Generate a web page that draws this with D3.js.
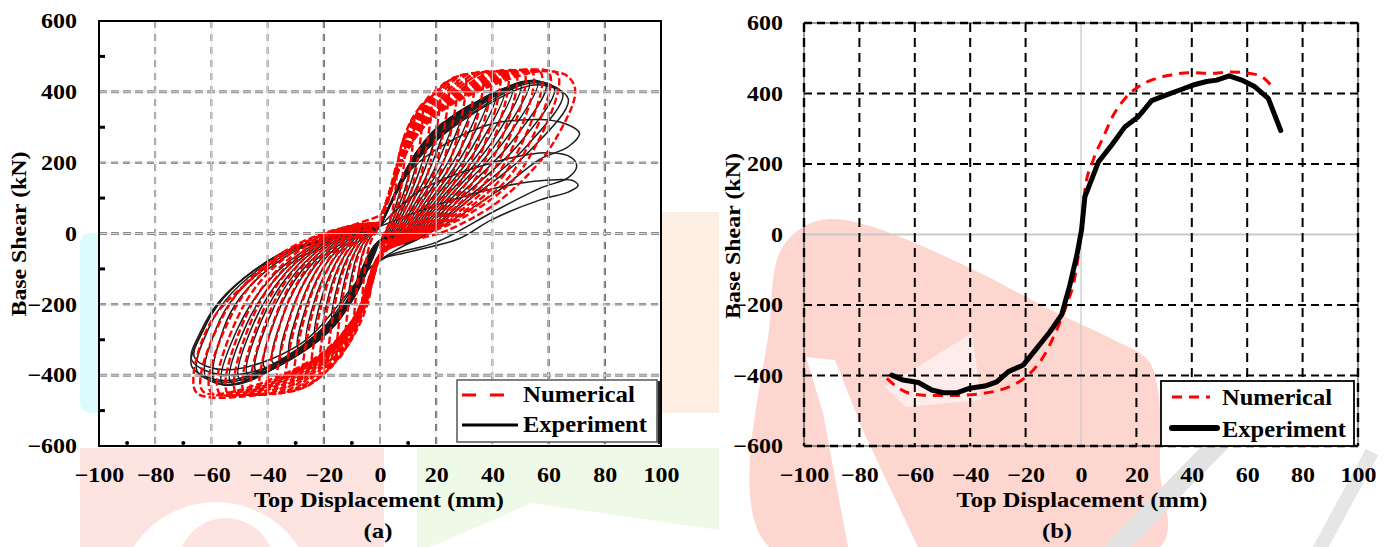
<!DOCTYPE html>
<html><head><meta charset="utf-8">
<script src="https://cdn.jsdelivr.net/npm/d3@7"></script>
<style>
html,body{margin:0;padding:0;background:#fff;}
svg{display:block;}
text{font-family:"Liberation Serif","Tinos","Times New Roman","DejaVu Serif","Noto Serif",serif;font-weight:bold;fill:#000;}
</style></head><body>
<svg id="c" width="1391" height="547"></svg>
<script>
// ---------------- DATA ----------------
const xTicks = [-100,-80,-60,-40,-20,0,20,40,60,80,100];
const yTicks = [-600,-400,-200,0,200,400,600];
const minorXTicks = [-90,-70,-50,-30,-10,10];
const minorYTicks = [-500,-300,-100,100,300,500];
const seriesNames = ["Numerical","Experiment"];
const panelLabels = ["(a)","(b)"];
const xTitle = "Top Displacement (mm)";
const yTitle = "Base Shear (kN)";

// (a) cyclic hysteresis – experiment loops [displacement mm, shear kN]
const experimentLoops = [
 [[0,20],[1.6,49],[4,90],[8,160],[6.4,99],[4,45],[1.2,-8],[0,-20],[-1.6,-52],[-4,-94],[-8,-140],[-7.2,-87],[-5.4,-39],[-3.2,-8],[-1.2,7],[0,20]],
 [[0,20],[2.2,57],[5.5,117],[11,200],[8.8,124],[5.5,56],[1.7,-9],[0,-20],[-2.2,-60],[-5.5,-121],[-11,-180],[-9.9,-112],[-7.5,-50],[-4.4,-11],[-1.7,9],[0,20]],
 [[0,20],[2.8,66],[7,144],[14,240],[11.2,149],[7,67],[2.1,-10],[0,-20],[-2.8,-71],[-7,-146],[-14,-215],[-12.6,-133],[-9.5,-60],[-5.6,-13],[-2.1,11],[0,20]],
 [[0,20],[3.4,76],[8.5,169],[17,270],[13.6,167],[8.5,76],[2.6,-11],[0,-20],[-3.4,-81],[-8.5,-169],[-17,-245],[-15.3,-152],[-11.6,-69],[-6.8,-15],[-2.6,12],[0,20]],
 [[0,20],[4,86],[10,191],[20,295],[16,183],[10,83],[3,-12],[0,-20],[-4,-91],[-10,-191],[-20,-270],[-18,-167],[-13.6,-76],[-8,-16],[-3,14],[0,20]],
 [[0,20],[4.6,95],[11.5,210],[23,315],[18.4,195],[11.5,88],[3.5,-13],[0,-20],[-4.6,-101],[-11.5,-208],[-23,-290],[-20.7,-180],[-15.6,-81],[-9.2,-17],[-3.5,15],[0,20]],
 [[0,20],[5.2,104],[13,228],[26,330],[20.8,205],[13,92],[3.9,-14],[0,-20],[-5.2,-110],[-13,-226],[-26,-310],[-23.4,-192],[-17.7,-87],[-10.4,-19],[-3.9,16],[0,20]],
 [[0,20],[5.8,114],[14.5,243],[29,345],[23.2,214],[14.5,97],[4.4,-15],[0,-20],[-5.8,-120],[-14.5,-243],[-29,-325],[-26.1,-202],[-19.7,-91],[-11.6,-20],[-4.4,16],[0,20]],
 [[0,20],[6.4,123],[16,258],[32,358],[25.6,222],[16,100],[4.8,-16],[0,-20],[-6.4,-128],[-16,-258],[-32,-340],[-28.8,-211],[-21.8,-95],[-12.8,-20],[-4.8,17],[0,20]],
 [[0,20],[7,132],[17.5,271],[35,370],[28,229],[17.5,104],[5.3,-17],[0,-20],[-7,-137],[-17.5,-271],[-35,-355],[-31.5,-220],[-23.8,-99],[-14,-21],[-5.3,18],[0,20]],
 [[0,20],[7.6,141],[19,279],[38,380],[30.4,236],[19,106],[5.7,-18],[0,-20],[-7.6,-144],[-19,-283],[-38,-365],[-34.2,-226],[-25.8,-102],[-15.2,-22],[-5.7,18],[0,20]],
 [[0,20],[8.2,149],[20.5,288],[41,392],[32.8,243],[20.5,110],[6.2,-19],[0,-20],[-8.2,-152],[-20.5,-293],[-41,-378],[-36.9,-234],[-27.9,-106],[-16.4,-23],[-6.2,19],[0,20]],
 [[0,20],[8.8,158],[22,301],[44,402],[35.2,249],[22,113],[6.6,-20],[0,-20],[-8.8,-161],[-22,-302],[-44,-390],[-39.6,-242],[-29.9,-109],[-17.6,-23],[-6.6,20],[0,20]],
 [[0,20],[9.4,166],[23.5,308],[47,412],[37.6,255],[23.5,115],[7,-21],[0,-20],[-9.4,-169],[-23.5,-309],[-47,-400],[-42.3,-248],[-32,-112],[-18.8,-24],[-7,20],[0,20]],
 [[0,20],[10,174],[25,315],[50,420],[40,260],[25,118],[7.5,-22],[0,-20],[-10,-176],[-25,-318],[-50,-410],[-45,-254],[-34,-115],[-20,-25],[-7.5,20],[0,20]],
 [[0,20],[10.6,180],[26.5,320],[53,428],[42.4,265],[26.5,120],[8,-23],[0,-20],[-10.6,-183],[-26.5,-324],[-53,-420],[-47.7,-260],[-36,-118],[-21.2,-25],[-8,21],[0,20]],
 [[0,20],[11.2,187],[28,325],[56,430],[44.8,267],[28,120],[8.4,-24],[0,-20],[-11.2,-189],[-28,-330],[-56,-425],[-50.4,-264],[-38,-119],[-22.4,-26],[-8.4,21],[0,20]],
 [[0,20],[11.8,195],[29.5,330],[50,428],[59,420],[47,260],[29.5,118],[8.9,-25],[0,-20],[-11.8,-195],[-29.5,-335],[-50,-425],[-59,-415],[-55.5,-265],[-49.7,-180],[-39.3,-98],[-28.8,-44],[-18.3,-16],[-7.9,10],[0,20]],
 [[0,20],[12.4,200],[31,335],[52,428],[62,410],[49.6,254],[31,115],[9.3,-26],[0,-20],[-12.4,-200],[-31,-340],[-52,-425],[-62,-405],[-58.3,-268],[-52.2,-183],[-41.3,-100],[-30.2,-45],[-19.2,-17],[-8.3,10],[0,20]],
 [[0,20],[13,205],[32.5,338],[54,425],[65,395],[52,245],[32.5,110],[9.8,-27],[0,-20],[-13,-205],[-32.5,-345],[-54,-420],[-65,-390],[-61.1,-270],[-54.7,-186],[-43.3,-102],[-31.7,-46],[-20.2,-18],[-8.7,10],[0,20]],
 [[0,20],[13.4,210],[33.5,340],[56,420],[67,380],[53.6,236],[33.5,106],[10,-28],[0,-20],[-13.4,-208],[-33.5,-348],[-55,-415],[-67,-375],[-63,-272],[-56.4,-188],[-44.6,-103],[-32.7,-47],[-20.8,-18],[-9,10],[0,20]],
 [[0,20],[11,180],[36,300],[56,322],[66,310],[71,283],[67,245],[57,210],[42,120],[22,20],[5,-50],[-4,-100],[-28,-330],[-55,-400],[-67,-357],[-64,-280],[-57,-190],[-45,-105],[-33,-48],[-21,-18],[-9,10],[0,20]],
 [[0,20],[14,120],[40,200],[60,228],[68,215],[70,190],[67,158],[57,128],[40,60],[20,-25],[4,-60],[-4,-100],[-28,-310],[-55,-385],[-66,-350],[-63,-275],[-56,-185],[-44,-100],[-32,-45],[-20,-15],[-9,12],[0,20]],
 [[0,20],[20,80],[45,135],[63,152],[69,148],[70.5,135],[67,117],[57,95],[40,40],[28,-15],[14,-45],[0,-70]]
];

// (a) cyclic hysteresis – numerical loops
const numericalLoops = [
 [[0,30],[1.2,66],[2.7,98],[6,195],[4.8,80],[3,24],[0.9,-10],[0,-60],[-0.9,-80],[-2.4,-126],[-6,-190],[-5.1,-86],[-3.3,-23],[-1.2,8],[0,30]],
 [[0,30],[1.8,78],[4.05,130],[9,280],[7.2,112],[4.5,34],[1.4,-14],[0,-60],[-1.35,-93],[-3.6,-162],[-9,-270],[-7.7,-122],[-5,-32],[-1.8,11],[0,30]],
 [[0,30],[2.4,89],[5.4,170],[12,330],[9.6,132],[6,40],[1.8,-17],[0,-60],[-1.8,-109],[-4.8,-193],[-12,-320],[-10.2,-144],[-6.6,-38],[-2.4,13],[0,30]],
 [[0,30],[3,98],[6.75,208],[15,365],[12,146],[7.5,44],[2.3,-18],[0,-60],[-2.25,-121],[-6,-214],[-15,-355],[-12.8,-160],[-8.3,-43],[-3,14],[0,30]],
 [[0,30],[3.6,109],[8.1,241],[18,390],[14.4,156],[9,47],[2.7,-20],[0,-60],[-2.7,-131],[-7.2,-233],[-18,-380],[-15.3,-171],[-9.9,-46],[-3.6,15],[0,30]],
 [[0,30],[4.2,125],[9.45,263],[21,410],[16.8,164],[10.5,49],[3.2,-21],[0,-60],[-3.15,-142],[-8.4,-251],[-21,-400],[-17.9,-180],[-11.6,-48],[-4.2,16],[0,30]],
 [[0,30],[4.8,140],[10.8,281],[24,428],[19.2,171],[12,51],[3.6,-21],[0,-60],[-3.6,-153],[-9.6,-267],[-24,-418],[-20.4,-188],[-13.2,-50],[-4.8,17],[0,30]],
 [[0,30],[5.4,155],[12.15,297],[27,440],[21.6,176],[13.5,53],[4.1,-22],[0,-60],[-4.05,-165],[-10.8,-280],[-27,-432],[-23,-194],[-14.9,-52],[-5.4,17],[0,30]],
 [[0,30],[6,169],[13.5,310],[30,448],[24,179],[15,54],[4.5,-22],[0,-60],[-4.5,-175],[-12,-291],[-30,-440],[-25.5,-198],[-16.5,-53],[-6,18],[0,30]],
 [[0,30],[6.6,183],[14.85,319],[33,452],[26.4,181],[16.5,54],[5,-23],[0,-60],[-4.95,-181],[-13.2,-300],[-33,-446],[-28,-201],[-18.2,-54],[-6.6,18],[0,30]],
 [[0,30],[7.2,198],[16.2,327],[36,455],[28.8,182],[18,55],[5.4,-23],[0,-60],[-5.4,-189],[-14.4,-309],[-36,-450],[-30.6,-203],[-19.8,-54],[-7.2,18],[0,30]],
 [[0,30],[7.8,212],[17.55,335],[39,457],[31.2,183],[19.5,55],[5.9,-23],[0,-60],[-5.85,-195],[-15.6,-317],[-39,-452],[-33.2,-203],[-21.5,-54],[-7.8,18],[0,30]],
 [[0,30],[8.4,222],[18.9,342],[42,457],[33.6,183],[21,55],[6.3,-23],[0,-60],[-6.3,-201],[-16.8,-325],[-42,-453],[-35.7,-204],[-23.1,-54],[-8.4,18],[0,30]],
 [[0,30],[9,231],[20.25,349],[45,458],[36,183],[22.5,55],[6.8,-23],[0,-60],[-6.75,-207],[-18,-332],[-45,-453],[-38.3,-204],[-24.8,-54],[-9,18],[0,30]],
 [[0,30],[9.6,239],[21.6,355],[48,458],[38.4,183],[24,55],[7.2,-23],[0,-60],[-7.2,-213],[-19.2,-337],[-48,-453],[-40.8,-204],[-26.4,-54],[-9.6,18],[0,30]],
 [[0,30],[10.2,247],[22.95,362],[51,458],[40.8,183],[25.5,55],[7.7,-23],[0,-60],[-7.65,-218],[-20.4,-344],[-51,-453],[-43.4,-204],[-28,-54],[-10.2,18],[0,30]],
 [[0,30],[10.8,253],[24.3,366],[54,458],[43.2,183],[27,55],[8.1,-23],[0,-60],[-8.1,-224],[-21.6,-349],[-54,-453],[-45.9,-204],[-29.7,-54],[-10.8,18],[0,30]],
 [[0,30],[11.4,259],[25.65,372],[57,457],[45.6,183],[28.5,55],[8.6,-23],[0,-60],[-8.55,-230],[-22.8,-355],[-57,-452],[-48.5,-203],[-31.4,-54],[-11.4,18],[0,30]],
 [[0,30],[12,266],[27,375],[60,456],[48,182],[30,55],[9,-23],[0,-60],[-9,-236],[-24,-359],[-60,-450],[-51,-203],[-33,-54],[-12,18],[0,30]],
 [[0,30],[12.6,271],[28.35,377],[63,452],[50.4,181],[31.5,54],[9.5,-23],[0,-60],[-9.45,-240],[-25.2,-362],[-63,-446],[-53.6,-201],[-34.7,-54],[-12.6,18],[0,30]],
 [[0,50],[3.5,108],[8.3,266],[13,344],[19.4,394],[25.8,438],[33.6,453],[50,458],[66,448],[69.5,403],[62,260],[52.8,167],[40,78],[24,9],[16,-10],[5,-30],[-1.2,-89],[-4.4,-198],[-9.2,-286],[-17.3,-375],[-26.7,-434],[-39.4,-453],[-64.8,-453],[-66.4,-404],[-60,-247],[-45.7,-128],[-33,-50],[-18.7,0],[-7.6,29],[0,50]]
];

// (b) envelope curves
const envelopeNumerical = [[-70.1,-408],[-66.5,-432],[-61.7,-451],[-54.5,-457],[-46.1,-457],[-37.7,-453],[-29.2,-441],[-23.2,-422],[-18.4,-394],[-13.6,-347],[-8.8,-271],[-5.2,-200],[-2.2,-120],[-0.4,-25],[0.5,50],[1.4,126],[4.4,211],[8.1,277],[11.7,339],[15.9,386],[20.7,419],[26.1,440],[32.1,452],[39.4,459],[46.6,457],[53.8,461],[61,457],[65.2,448],[68.5,424]];
const envelopeExperiment = [[-68.3,-399],[-64.2,-413],[-58.7,-420],[-53.9,-441],[-49.7,-449],[-44.9,-449],[-40.1,-436],[-34.7,-430],[-30.4,-418],[-26.2,-389],[-20.8,-370],[-16,-323],[-11.2,-276],[-7,-228],[-4,-143],[-1.4,-55],[0.2,13],[1.4,107],[6.3,206],[11.1,254],[15.9,306],[20.7,334],[25.5,380],[30.9,396],[35.7,410],[40.5,424],[45.4,434],[49,438],[53.5,450],[58,438],[62.8,419],[67.6,386],[72.1,295]];

// ---------------- DRAW ----------------
const svg = d3.select("#c");
const FONT = '"Liberation Serif","Tinos","Times New Roman","DejaVu Serif","Noto Serif",serif';
const FS = 21;

function measure(s,size){
  const t = svg.append("text").style("font-family",FONT).style("font-weight","bold").style("font-size",size+"px").text(s);
  const w = t.node().getComputedTextLength(); t.remove(); return w;
}
const TICK_SX = 36/measure("600",FS);

// faint background watermark decoration
const bg = svg.append("g");
bg.append("rect").attr("x",80).attr("y",233).attr("width",26).attr("height",180).attr("rx",10).attr("fill","#dcfbfe");
bg.append("rect").attr("x",655).attr("y",212).attr("width",64).attr("height",201).attr("fill","#fdeee3");
bg.append("rect").attr("x",80).attr("y",448).attr("width",304).attr("height",99).attr("fill","#fde4e1");
bg.append("circle").attr("cx",216).attr("cy",600).attr("r",98).attr("fill","#fff");
bg.append("circle").attr("cx",226).attr("cy",566).attr("r",48).attr("fill","#fde4e1");
bg.append("rect").attr("x",417).attr("y",448).attr("width",302).attr("height",99).attr("fill","#eefae7");
bg.append("path").attr("d","M430,547L532,503L719,530L719,547Z").attr("fill","#fff");
bg.append("path").attr("d",d3.line().curve(d3.curveCatmullRomClosed)([[769,547],[770,320],[780,252],[803,227],[830,219],[870,226],[968,267],[1051,310],[1114,340],[1148,360],[1158,390],[1160,470],[1160,547]])).attr("fill","#fdd6d0");
bg.append("path").attr("d","M806,357L835,360L864,433L918,547L848,547L823,413Z").attr("fill","#fff");
bg.append("path").attr("d","M885,387L972,333L981,400L906,407Z").attr("fill","#fff").attr("opacity",0.55);
bg.append("line").attr("x1",1112).attr("y1",552).attr("x2",1222).attr("y2",440).attr("stroke","#e2e2e2").attr("stroke-width",20);
bg.append("line").attr("x1",1372).attr("y1",452).attr("x2",1318).attr("y2",552).attr("stroke","#e6e6e6").attr("stroke-width",14);

function styleTicks(g){
  g.attr("font-family",null).attr("font-size",null);
  g.select(".domain").remove();
  g.selectAll(".tick line").remove();
  g.selectAll("text").style("font-size",FS+"px").style("font-family",FONT).style("font-weight","bold").attr("fill","#000")
    .attr("transform",`scale(${TICK_SX},1)`);
}
function addText(x,y,s,size,anchor,rot,targetW){
  const sx = targetW/measure(s,size);
  svg.append("text").attr("transform",`translate(${x},${y})`+(rot?` rotate(${rot})`:"")+` scale(${sx},1)`)
    .attr("text-anchor",anchor).style("font-family",FONT).style("font-size",size+"px").text(s);
}

// ===== Panel (a) =====
const A = {x0:99,x1:661,y0:21,y1:446};
const xA = d3.scaleLinear().domain([-100,100]).range([A.x0,A.x1]);
const yA = d3.scaleLinear().domain([-600,600]).range([A.y1,A.y0]);
const gA = svg.append("g");
gA.append("rect").attr("x",A.x0).attr("y",A.y0).attr("width",A.x1-A.x0).attr("height",A.y1-A.y0).attr("fill","#fff");
xTicks.filter(v=>Math.abs(v)<100).forEach(v=>{
  const dark=[-20,20,60,80].includes(v);
  gA.append("line").attr("x1",xA(v)).attr("x2",xA(v)).attr("y1",A.y0).attr("y2",A.y1)
    .attr("stroke",dark?"#151515":"#6f6f6f").attr("stroke-width",1.9).attr("stroke-dasharray","7,6");
});
yTicks.filter(v=>Math.abs(v)<600).forEach(v=>{
  const grey=[400,0,-400].includes(v);
  gA.append("line").attr("x1",A.x0).attr("x2",A.x1).attr("y1",yA(v)).attr("y2",yA(v))
    .attr("stroke",grey?"#8a8a8a":"#151515").attr("stroke-width",grey?3:1.7).attr("stroke-dasharray",grey?"8,4":"7,5");
});
const lineA = d3.line().x(d=>xA(d[0])).y(d=>yA(d[1])).curve(d3.curveCatmullRom.alpha(0.5));
experimentLoops.forEach(l=>gA.append("path").attr("d",lineA(l)).attr("fill","none")
  .attr("stroke","#1c1c1c").attr("stroke-width",1.5));
numericalLoops.forEach(l=>gA.append("path").attr("d",lineA(l)).attr("fill","none")
  .attr("stroke","#ff0000").attr("stroke-width",2.4).attr("stroke-dasharray","7,3"));
xTicks.filter(v=>Math.abs(v)<100).forEach(v=>gA.append("line").attr("x1",xA(v)).attr("x2",xA(v)).attr("y1",A.y0).attr("y2",A.y1)
  .attr("stroke","#e2e7ee").attr("stroke-width",1).attr("opacity",0.85));
yTicks.filter(v=>Math.abs(v)<600).forEach(v=>gA.append("line").attr("x1",A.x0).attr("x2",A.x1).attr("y1",yA(v)).attr("y2",yA(v))
  .attr("stroke","#e2e7ee").attr("stroke-width",1).attr("opacity",0.85));
gA.append("rect").attr("x",A.x0).attr("y",A.y0).attr("width",A.x1-A.x0).attr("height",A.y1-A.y0)
  .attr("fill","none").attr("stroke","#000").attr("stroke-width",2);
minorYTicks.forEach(v=>gA.append("line").attr("x1",A.x0).attr("x2",A.x0+6).attr("y1",yA(v)).attr("y2",yA(v)).attr("stroke","#000").attr("stroke-width",3));
minorXTicks.forEach(v=>gA.append("circle").attr("cx",xA(v)).attr("cy",A.y1-3).attr("r",2).attr("fill","#000"));
const LA = gA.append("g");
LA.append("rect").attr("x",457).attr("y",380).attr("width",200).attr("height",62).attr("fill","#fff").attr("stroke","#555").attr("stroke-width",1.5);
LA.append("line").attr("x1",659).attr("x2",659).attr("y1",381).attr("y2",444).attr("stroke","#222").attr("stroke-width",2.5);
LA.append("line").attr("x1",462).attr("x2",510).attr("y1",395).attr("y2",395).attr("stroke","#ff0000").attr("stroke-width",3).attr("stroke-dasharray","14,14");
LA.append("line").attr("x1",462).attr("x2",518).attr("y1",425).attr("y2",425).attr("stroke","#000").attr("stroke-width",3);
const axAx = svg.append("g").attr("transform",`translate(0,${A.y1})`).call(d3.axisBottom(xA).tickValues(xTicks).tickSize(0).tickPadding(21.5));
styleTicks(axAx);
const axAy = svg.append("g").attr("transform",`translate(${A.x0},0)`).call(d3.axisLeft(yA).tickValues(yTicks).tickSize(0).tickPadding(22/TICK_SX));
styleTicks(axAy);
addText(523,402,seriesNames[0],22.5,"start",0,112);
addText(523,432,seriesNames[1],22.5,"start",0,124);
addText(379,507,xTitle,FS,"middle",0,250);
addText(26,234,yTitle,FS,"middle",-90,165);
addText(378,538,panelLabels[0],21,"middle",0,29);

// ===== Panel (b) =====
const B = {x0:804,x1:1358,y0:23,y1:446};
const xB = d3.scaleLinear().domain([-100,100]).range([B.x0,B.x1]);
const yB = d3.scaleLinear().domain([-600,600]).range([B.y1,B.y0]);
const gB = svg.append("g");
gB.append("line").attr("x1",B.x0).attr("x2",B.x1).attr("y1",yB(0)).attr("y2",yB(0)).attr("stroke","#c9c9c9").attr("stroke-width",2);
gB.append("line").attr("x1",xB(0)).attr("x2",xB(0)).attr("y1",B.y0).attr("y2",B.y1).attr("stroke","#c9c9c9").attr("stroke-width",1.3);
xTicks.filter(v=>v!==0).forEach(v=>gB.append("line").attr("x1",xB(v)).attr("x2",xB(v)).attr("y1",B.y0).attr("y2",B.y1)
  .attr("stroke","#000").attr("stroke-width",Math.abs(v)===100?2.4:2).attr("stroke-dasharray","9,6"));
yTicks.filter(v=>v!==0).forEach(v=>gB.append("line").attr("x1",B.x0).attr("x2",B.x1).attr("y1",yB(v)).attr("y2",yB(v))
  .attr("stroke","#000").attr("stroke-width",Math.abs(v)===600?2.4:2).attr("stroke-dasharray","8,5"));
gB.append("rect").attr("x",B.x0).attr("y",B.y0).attr("width",B.x1-B.x0).attr("height",B.y1-B.y0)
  .attr("fill","none").attr("stroke","#000").attr("stroke-width",0.8);
const lineBs = d3.line().x(d=>xB(d[0])).y(d=>yB(d[1])).curve(d3.curveMonotoneX);
const lineBl = d3.line().x(d=>xB(d[0])).y(d=>yB(d[1]));
gB.append("path").attr("d",lineBs(envelopeNumerical)).attr("fill","none").attr("stroke","#ff0000")
  .attr("stroke-width",3).attr("stroke-dasharray","10,7");
gB.append("path").attr("d",lineBl(envelopeExperiment)).attr("fill","none").attr("stroke","#000")
  .attr("stroke-width",5).attr("stroke-linejoin","round").attr("stroke-linecap","round");
const LB = gB.append("g");
LB.append("rect").attr("x",1161).attr("y",381).attr("width",193).attr("height",65).attr("fill","#fff").attr("stroke","#000").attr("stroke-width",1.8);
LB.append("line").attr("x1",1172).attr("x2",1210).attr("y1",397).attr("y2",397).attr("stroke","#ff0000").attr("stroke-width",3).attr("stroke-dasharray","10,7");
LB.append("line").attr("x1",1172).attr("x2",1217).attr("y1",428).attr("y2",428).attr("stroke","#000").attr("stroke-width",6).attr("stroke-linecap","round");
const axBx = svg.append("g").attr("transform",`translate(0,${B.y1})`).call(d3.axisBottom(xB).tickValues(xTicks).tickSize(0).tickPadding(21.5));
styleTicks(axBx);
const axBy = svg.append("g").attr("transform",`translate(${B.x0},0)`).call(d3.axisLeft(yB).tickValues(yTicks).tickSize(0).tickPadding(21/TICK_SX));
styleTicks(axBy);
addText(1222,405,seriesNames[0],22.5,"start",0,110);
addText(1222,437,seriesNames[1],22.5,"start",0,124);
addText(1082,507,xTitle,FS,"middle",0,251);
addText(740,236,yTitle,FS,"middle",-90,166);
addText(1057,538,panelLabels[1],21,"middle",0,30);
</script>
</body></html>
